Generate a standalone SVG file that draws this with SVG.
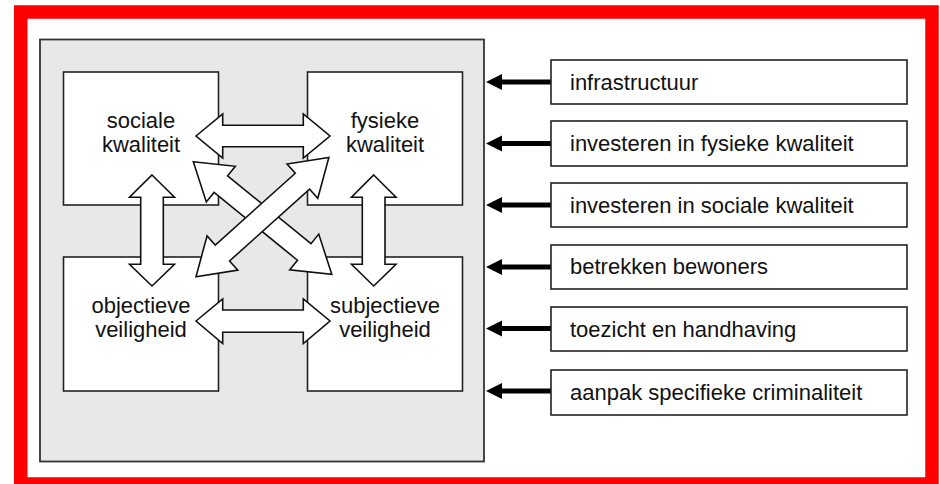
<svg xmlns="http://www.w3.org/2000/svg" width="940" height="484" viewBox="0 0 940 484">
<defs>
<style>
.box{fill:#fff;stroke:#222;stroke-width:1.6}
.blk{fill:#fff;stroke:#111;stroke-width:1.6;stroke-linejoin:miter}
.t{font-family:"Liberation Sans",Arial,sans-serif;font-size:22px;fill:#111}
.c{text-anchor:middle}
.ln{stroke:#000;stroke-width:5;fill:none}
.hd{fill:#000}
</style>
<polygon id="diag" points="0,0 35.5,-23 35.5,-10.7 143,-10.7 143,-23 178.5,0 143,23 143,10.7 35.5,10.7 35.5,23"/>
</defs>
<rect width="940" height="484" fill="#fff"/>
<rect x="20.75" y="12" width="911.25" height="472" fill="none" stroke="#ff0000" stroke-width="13.5"/>
<g id="frame">
<rect x="40" y="39.5" width="444" height="422" fill="#e8e8e8" stroke="#333" stroke-width="1.8"/>
</g>
<g id="sociale">
<rect class="box" x="63.5" y="72" width="155" height="133"/>
<text class="t c" x="141" y="128">sociale</text>
<text class="t c" x="141" y="152">kwaliteit</text>
</g>
<g id="fysieke">
<rect class="box" x="307.5" y="72" width="155" height="133"/>
<text class="t c" x="385" y="128">fysieke</text>
<text class="t c" x="385" y="152">kwaliteit</text>
</g>
<g id="objectieve">
<rect class="box" x="63.5" y="257" width="155" height="134"/>
<text class="t c" x="141" y="313">objectieve</text>
<text class="t c" x="141" y="337">veiligheid</text>
</g>
<g id="subjectieve">
<rect class="box" x="307.5" y="257" width="155" height="134"/>
<text class="t c" x="385" y="313">subjectieve</text>
<text class="t c" x="385" y="337">veiligheid</text>
</g>
<g id="connectors">
<polygon class="blk" points="196,136 222.7,114 222.7,125.3 303.3,125.3 303.3,114 330,136 303.3,158 303.3,146.7 222.7,146.7 222.7,158"/>
<polygon class="blk" points="196,321 222.7,299 222.7,310 303.3,310 303.3,299 330,321 303.3,343.5 303.3,332.3 222.7,332.3 222.7,343.5"/>
<polygon class="blk" points="152,175 174.5,197.3 163.3,197.3 163.3,264.3 174.5,264.3 152,286 129.5,264.3 140.7,264.3 140.7,197.3 129.5,197.3"/>
<polygon class="blk" points="373.7,175 396,197.3 385,197.3 385,264.3 396,264.3 373.7,286 351.5,264.3 362.3,264.3 362.3,197.3 351.5,197.3"/>
<use href="#diag" class="blk" transform="translate(193.3,161.7) rotate(39.13)"/>
<use href="#diag" class="blk" transform="translate(196,276.7) rotate(-41.9)"/>
<g id="inputs">
<line class="ln" x1="500" y1="82" x2="551" y2="82"/><polygon class="hd" points="486,82 502,74 502,90"/>
<line class="ln" x1="500" y1="143.5" x2="551" y2="143.5"/><polygon class="hd" points="486,143.5 502,135.5 502,151.5"/>
<line class="ln" x1="500" y1="205" x2="551" y2="205"/><polygon class="hd" points="486,205 502,197 502,213"/>
<line class="ln" x1="500" y1="267" x2="551" y2="267"/><polygon class="hd" points="486,267 502,259 502,275"/>
<line class="ln" x1="500" y1="328.5" x2="551" y2="328.5"/><polygon class="hd" points="486,328.5 502,320.5 502,336.5"/>
<line class="ln" x1="500" y1="391" x2="551" y2="391"/><polygon class="hd" points="486,391 502,383 502,399"/>
</g>
</g>
<g id="infrastructuur"><rect class="box" x="551" y="60" width="356" height="44"/><text class="t" x="570" y="90">infrastructuur</text></g>
<g id="fysiek-invest"><rect class="box" x="551" y="121" width="356" height="45"/><text class="t" x="570" y="151">investeren in fysieke kwaliteit</text></g>
<g id="sociaal-invest"><rect class="box" x="551" y="183" width="356" height="44"/><text class="t" x="570" y="212.5">investeren in sociale kwaliteit</text></g>
<g id="bewoners"><rect class="box" x="551" y="245" width="356" height="44"/><text class="t" x="570" y="274">betrekken bewoners</text></g>
<g id="toezicht"><rect class="box" x="551" y="307" width="356" height="44"/><text class="t" x="570" y="336.5">toezicht en handhaving</text></g>
<g id="aanpak"><rect class="box" x="551" y="370" width="356" height="45"/><text class="t" x="570" y="400">aanpak specifieke criminaliteit</text></g>
</svg>
